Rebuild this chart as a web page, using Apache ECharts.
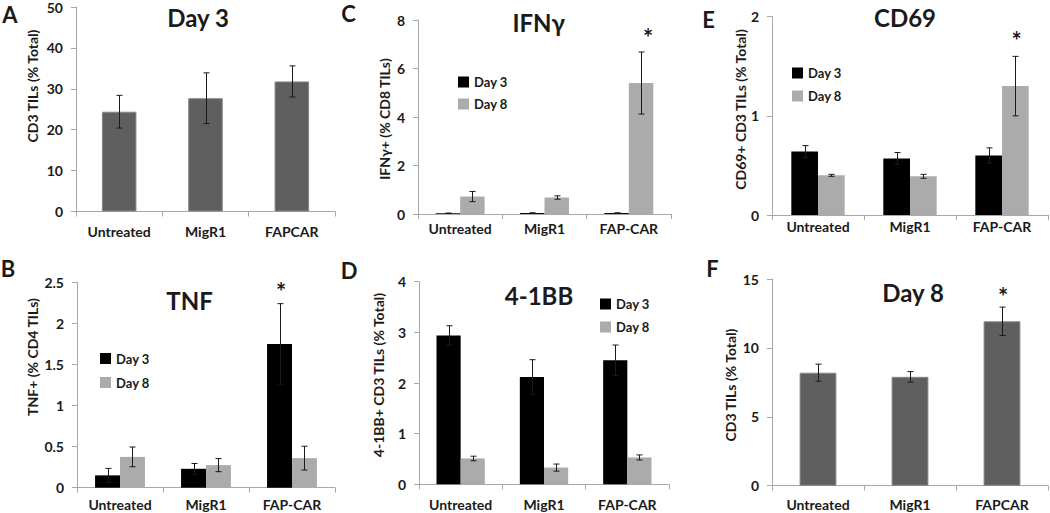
<!DOCTYPE html>
<html>
<head>
<meta charset="utf-8">
<script src="https://cdn.jsdelivr.net/npm/echarts@6/dist/echarts.min.js"></script>
<style>
html,body{margin:0;padding:0;background:#fff;}
#chart{width:1050px;height:513px;}
</style>
</head>
<body>
<div id="chart"></div>
<script>
// ---------- data ----------
const catsA = ['Untreated', 'MigR1', 'FAPCAR'];
const catsDash = ['Untreated', 'MigR1', 'FAP-CAR'];
const seriesNames = ['Day 3', 'Day 8'];

// A: CD3 TILs day 3 (% total)
const aValues = [24.4, 27.7, 31.8];
const aErrors = [4.0, 6.2, 3.8];
// F: CD3 TILs day 8 (% total)
const fValues = [8.2, 7.9, 11.93];
const fErrors = [0.62, 0.38, 1.03];
// B: TNF+ (% CD4 TILs)
const bDay3 = [0.15, 0.23, 1.75];
const bDay3Err = [0.085, 0.065, 0.49];
const bDay8 = [0.375, 0.275, 0.36];
const bDay8Err = [0.12, 0.08, 0.145];
// C: IFNg+ (% CD8 TILs)
const cDay3 = [0.03, 0.04, 0.04];
const cDay3Err = [0.01, 0.01, 0.01];
const cDay8 = [0.72, 0.68, 5.4];
const cDay8Err = [0.21, 0.07, 1.28];
// D: 4-1BB+ CD3 TILs (% total)
const dDay3 = [2.94, 2.12, 2.45];
const dDay3Err = [0.19, 0.34, 0.30];
const dDay8 = [0.51, 0.33, 0.53];
const dDay8Err = [0.045, 0.07, 0.05];
// E: CD69+ CD3 TILs (% total)
const eDay3 = [0.64, 0.57, 0.60];
const eDay3Err = [0.06, 0.06, 0.077];
const eDay8 = [0.40, 0.39, 1.30];
const eDay8Err = [0.01, 0.02, 0.30];

// ---------- styles ----------
const FONT = 'Lato, "Open Sans", "Liberation Sans", sans-serif';
const AXIS = '#a8a8a8';
const TXT = '#1a1a1a';
const C_SINGLE = '#5f5f5f';
const C_D3 = '#000000';
const C_D8 = '#ababab';

const panels = [
  {grid:{left:76, top:6, width:259, height:205.5}, cats:catsA, max:50, interval:10, xm:13},
  {grid:{left:77, top:282.3, width:258, height:205.4}, cats:catsDash, max:2.5, interval:0.5, xm:10},
  {grid:{left:418, top:20, width:253, height:194}, cats:catsDash, max:8, interval:2, xm:7},
  {grid:{left:419, top:281.7, width:250, height:202.6}, cats:catsDash, max:4, interval:1, xm:13},
  {grid:{left:772, top:16.7, width:276, height:198.3}, cats:catsDash, max:2, interval:1, xm:4},
  {grid:{left:772, top:279, width:276, height:206.7}, cats:catsA, max:15, interval:5, xm:12}
];

const grids = [], xAxes = [], yAxes = [];
panels.forEach((p, i) => {
  grids.push(Object.assign({containLabel:false}, p.grid));
  xAxes.push({
    type:'category', gridIndex:i, data:p.cats,
    axisLine:{lineStyle:{color:AXIS, width:1}},
    axisTick:{show:true, length:5, lineStyle:{color:AXIS}},
    axisLabel:{color:TXT, fontFamily:FONT, fontWeight:'bold', fontSize:14, margin:p.xm, interval:0}
  });
  yAxes.push({
    type:'value', gridIndex:i, min:0, max:p.max, interval:p.interval,
    splitLine:{show:false},
    axisLine:{show:true, lineStyle:{color:AXIS, width:1}},
    axisTick:{show:true, length:5, lineStyle:{color:AXIS}},
    axisLabel:{color:TXT, fontFamily:FONT, fontWeight:'bold', fontSize:14, margin:13}
  });
});

function errData(vals, errs){
  return vals.map((v, i) => [i, v - errs[i], v + errs[i]]);
}
function errSeries(idx, vals, errs, offsetFrac){
  return {
    type:'custom', xAxisIndex:idx, yAxisIndex:idx, z:10, silent:true,
    data: errData(vals, errs),
    encode:{x:0, y:[1,2]},
    renderItem: function(params, api){
      const x = api.value(0), lo = api.value(1), hi = api.value(2);
      const band = api.size([1, 0])[0];
      const pLo = api.coord([x, lo]);
      const pHi = api.coord([x, hi]);
      const cx = Math.round(pLo[0] + offsetFrac * band) + 0.5;
      const cap = 3;
      const st = {stroke:'#1a1a1a', lineWidth:1};
      return {type:'group', children:[
        {type:'line', shape:{x1:cx, y1:pLo[1], x2:cx, y2:pHi[1]}, style:st},
        {type:'line', shape:{x1:cx-cap, y1:pHi[1], x2:cx+cap, y2:pHi[1]}, style:st},
        {type:'line', shape:{x1:cx-cap, y1:pLo[1], x2:cx+cap, y2:pLo[1]}, style:st}
      ]};
    }
  };
}
function singleBar(idx, vals){
  return {type:'bar', name:'single'+idx, xAxisIndex:idx, yAxisIndex:idx, data:vals, barWidth:'40%',
    itemStyle:{color:C_SINGLE, borderColor:'#858585', borderWidth:1}, silent:true};
}
function pairBars(idx, d3, d8){
  return [
    {type:'bar', name:seriesNames[0], xAxisIndex:idx, yAxisIndex:idx, data:d3, barWidth:'29%', barGap:'0%',
      itemStyle:{color:C_D3}, silent:true},
    {type:'bar', name:seriesNames[1], xAxisIndex:idx, yAxisIndex:idx, data:d8, barWidth:'29%', barGap:'0%',
      itemStyle:{color:C_D8}, silent:true}
  ];
}

const series = [
  singleBar(0, aValues), errSeries(0, aValues, aErrors, 0),
  ...pairBars(1, bDay3, bDay8), errSeries(1, bDay3, bDay3Err, -0.145), errSeries(1, bDay8, bDay8Err, 0.145),
  ...pairBars(2, cDay3, cDay8), errSeries(2, cDay3, cDay3Err, -0.145), errSeries(2, cDay8, cDay8Err, 0.145),
  ...pairBars(3, dDay3, dDay8), errSeries(3, dDay3, dDay3Err, -0.145), errSeries(3, dDay8, dDay8Err, 0.145),
  ...pairBars(4, eDay3, eDay8), errSeries(4, eDay3, eDay3Err, -0.145), errSeries(4, eDay8, eDay8Err, 0.145),
  singleBar(5, fValues), errSeries(5, fValues, fErrors, 0)
];

function legendAt(left, top, gap){
  return {data:seriesNames, orient:'vertical', left:left, top:top, padding:0, itemGap:gap,
    itemWidth:11, itemHeight:11, icon:'rect', selectedMode:false,
    textStyle:{color:TXT, fontFamily:FONT, fontWeight:'bold', fontSize:13}};
}
const legends = [legendAt(100, 352, 11), legendAt(458, 75.5, 9), legendAt(600, 297.5, 10), legendAt(792, 66.5, 10)];

function txt(text, x, y, size, rot){
  return {type:'text', x:x, y:y, rotation:rot || 0, silent:true,
    style:{text:text, align:'center', verticalAlign:'middle', fill:TXT,
      font:'bold ' + size + 'px ' + FONT}};
}
const graphics = [
  // panel letters
  txt('A', 10, 14, 22), txt('B', 8, 268, 22), txt('C', 348.5, 13, 22),
  txt('D', 349, 270, 22), txt('E', 708.5, 19.5, 22), txt('F', 712.5, 268, 22),
  // titles
  txt('Day 3', 198, 17.5, 24), txt('TNF', 189.5, 300.5, 24), txt('IFNγ', 538.7, 22, 24),
  txt('4-1BB', 539, 295.5, 24), txt('CD69', 905, 17, 24), txt('Day 8', 913, 292.5, 24),
  // significance stars
  txt('*', 281, 291.5, 24), txt('*', 648, 37.5, 24), txt('*', 1016.7, 40.5, 24), txt('*', 1003, 296.5, 24),
  // y axis names
  txt('CD3 TILs (% Total)', 32, 86, 14, Math.PI/2),
  txt('TNF+ (% CD4 TILs)', 32, 357, 14, Math.PI/2),
  txt('IFNγ+ (% CD8 TILs)', 384, 119, 14, Math.PI/2),
  txt('4-1BB+ CD3 TILs (% Total)', 378, 375, 14, Math.PI/2),
  txt('CD69+ CD3 TILs (% Total)', 740, 109.5, 14, Math.PI/2),
  txt('CD3 TILs (% Total)', 730, 385, 14, Math.PI/2)
];

const chart = echarts.init(document.getElementById('chart'), null, {renderer:'svg'});
chart.setOption({
  animation:false,
  backgroundColor:'#ffffff',
  grid:grids, xAxis:xAxes, yAxis:yAxes,
  legend:legends,
  series:series,
  graphic:graphics
});
</script>
</body>
</html>
